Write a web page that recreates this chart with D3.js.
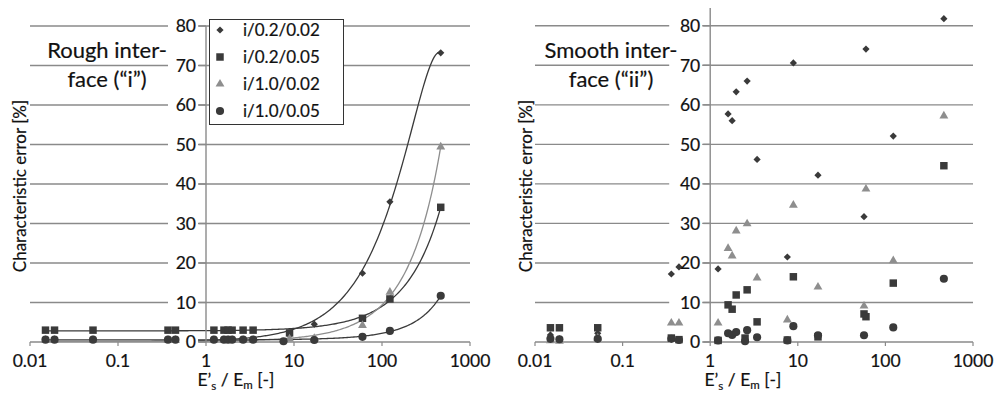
<!DOCTYPE html>
<html><head><meta charset="utf-8">
<script src="https://cdn.jsdelivr.net/npm/d3@7"></script>
<style>
body{margin:0;background:#fff}
svg{display:block}
text{font-family:Lato,"Open Sans",sans-serif;fill:#111;stroke:#111;stroke-width:0.2px}
</style>
</head><body>
<svg id="c" width="1001" height="396"></svg>
<script>
// ---------- data ----------
const xTickValues = [0.01, 0.1, 1, 10, 100, 1000];
const xTickLabels = ["0.01", "0.1", "1", "10", "100", "1000"];
const yTickValues = [0, 10, 20, 30, 40, 50, 60, 70, 80];
const seriesNames = ["i/0.2/0.02", "i/0.2/0.05", "i/1.0/0.02", "i/1.0/0.05"];

// Rough interface ("i")
const roughDiamondX = [0.015,0.019,0.052,0.37,0.45,1.23,1.6,1.78,1.98,2.64,3.43,8.9,17,60,123,465];
const roughDiamondY = [0.7,0.7,0.7,0.7,0.7,0.6,0.6,0.6,0.6,0.6,0.6,1.8,4.5,17.4,35.5,73.2];
const roughSquareX  = [0.015,0.019,0.052,0.37,0.45,1.23,1.6,1.78,1.98,2.64,3.43,8.9,60,123,465];
const roughSquareY  = [3.0,3.0,3.0,3.0,3.0,3.0,3.0,3.0,3.0,3.0,3.0,2.3,6.0,10.9,34.1];
const roughTriangleX = [0.015,0.019,0.052,0.37,0.45,1.23,1.6,1.78,1.98,2.64,3.43,8.9,17,60,123,465];
const roughTriangleY = [0.4,0.4,0.4,0.4,0.4,0.4,0.4,0.4,0.4,0.4,0.4,0.8,0.9,4.2,12.6,49.4];
const roughCircleX  = [0.015,0.019,0.052,0.37,0.45,1.23,1.6,1.78,1.98,2.64,3.43,7.6,17,60,123,465];
const roughCircleY  = [0.6,0.6,0.6,0.6,0.6,0.6,0.6,0.6,0.6,0.6,0.6,0.2,0.5,1.3,2.8,11.7];

// Smooth interface ("ii")
const smoothDiamondX = [0.015,0.019,0.052,0.36,0.44,1.23,1.6,1.78,1.98,2.64,3.43,7.6,8.9,17,57,60,123,465];
const smoothDiamondY = [1.8,0.8,2.2,17.2,19.0,18.5,57.7,56.0,63.3,66.0,46.2,21.5,70.6,42.2,31.7,74.1,52.1,81.8];
const smoothSquareX  = [0.015,0.019,0.052,0.36,0.44,1.23,1.6,1.78,1.98,2.5,2.64,3.43,7.6,8.9,17,57,60,123,465];
const smoothSquareY  = [3.6,3.6,3.6,1.0,0.6,0.4,9.4,8.3,11.9,1.0,13.2,5.1,0.5,16.5,1.3,7.1,6.4,14.9,44.6];
const smoothTriangleX = [0.015,0.019,0.052,0.36,0.44,1.23,1.6,1.78,1.98,2.64,3.43,7.6,8.9,17,57,60,123,465];
const smoothTriangleY = [0.3,0.2,1.0,4.8,4.8,4.8,23.7,21.8,28.1,29.9,16.2,5.6,34.6,13.9,9.1,38.7,20.6,57.2];
const smoothCircleX  = [0.015,0.019,0.052,0.36,0.44,1.23,1.6,1.78,1.98,2.5,2.64,3.43,7.6,8.9,17,57,123,465];
const smoothCircleY  = [0.8,0.7,0.8,0.8,0.5,0.4,2.2,1.8,2.5,0.2,3.0,1.2,0.4,4.0,1.7,1.7,3.7,16.0];

// ---------- helpers ----------
// least-squares polynomial (order 2) trendline in linear x, as in the spreadsheet
function polyFit(pts, order) {
  const n = order + 1;
  const A = Array.from({length: n}, () => new Array(n + 1).fill(0));
  pts.forEach(p => {
    for (let r = 0; r < n; r++) {
      for (let c = 0; c < n; c++) A[r][c] += Math.pow(p.x, r + c);
      A[r][n] += p.y * Math.pow(p.x, r);
    }
  });
  for (let i = 0; i < n; i++) {
    let m = i;
    for (let k = i + 1; k < n; k++) if (Math.abs(A[k][i]) > Math.abs(A[m][i])) m = k;
    [A[i], A[m]] = [A[m], A[i]];
    for (let k = i + 1; k < n; k++) {
      const f = A[k][i] / A[i][i];
      for (let c = i; c <= n; c++) A[k][c] -= f * A[i][c];
    }
  }
  const coef = new Array(n).fill(0);
  for (let i = n - 1; i >= 0; i--) {
    let s = A[i][n];
    for (let c = i + 1; c < n; c++) s -= A[i][c] * coef[c];
    coef[i] = s / A[i][i];
  }
  return x => coef.reduce((acc, c, i) => acc + c * Math.pow(x, i), 0);
}

// ---------- drawing ----------
const svg = d3.select("#c");
const dark = "#3a3a3a", light = "#8e8e8e", grid = "#8a8a8a";
const styles = [
  {type: d3.symbolSquare, size: 26, rot: 45, color: dark},   // diamond
  {type: d3.symbolSquare, size: 56, rot: 0, color: dark},    // square
  {type: d3.symbolTriangle, size: 34, rot: 0, color: light}, // triangle
  {type: d3.symbolCircle, size: 52, rot: 0, color: dark}     // circle
];
const zip = (xs, ys) => xs.map((x, i) => ({x, y: ys[i]}));

const panels = [
  {xr: [30, 470], ymax: 80, yr: [342, 26], axisTop: 80, lines: true,
   title: ["Rough inter-", "face (\u201Ci\u201D)"], titleX: 107,
   yTitleX: 26, xTitleX: 236, bgW: 30,
   series: [zip(roughDiamondX, roughDiamondY), zip(roughSquareX, roughSquareY),
            zip(roughTriangleX, roughTriangleY), zip(roughCircleX, roughCircleY)]},
  {xr: [535, 973], ymax: 84.5, yr: [342, 8], axisTop: 84.5, lines: false,
   title: ["Smooth inter-", "face (\u201Cii\u201D)"], titleX: 611,
   yTitleX: 532, xTitleX: 743, bgW: 33,
   series: [zip(smoothDiamondX, smoothDiamondY), zip(smoothSquareX, smoothSquareY),
            zip(smoothTriangleX, smoothTriangleY), zip(smoothCircleX, smoothCircleY)]}
];

panels.forEach((p, pi) => {
  const x = d3.scaleLog().domain([0.01, 1000]).range(p.xr);
  const y = d3.scaleLinear().domain([0, p.ymax]).range(p.yr);
  const g = svg.append("g");
  const ax = x(1);

  const clipId = "clip" + pi;
  svg.append("clipPath").attr("id", clipId).append("rect")
    .attr("x", p.xr[0]).attr("y", y(p.ymax)).attr("width", p.xr[1] - p.xr[0])
    .attr("height", y(0) - y(p.ymax));

  // gridlines
  g.selectAll(".grid").data(yTickValues).join("line")
    .attr("x1", p.xr[0]).attr("x2", p.xr[1])
    .attr("y1", d => y(d)).attr("y2", d => y(d))
    .attr("stroke", grid).attr("stroke-width", 1.4);

  // x ticks
  g.selectAll(".xt").data(xTickValues).join("line")
    .attr("x1", d => x(d)).attr("x2", d => x(d))
    .attr("y1", y(0)).attr("y2", y(0) + 4)
    .attr("stroke", grid).attr("stroke-width", 1.2);

  // trendlines
  if (p.lines) {
    const line = d3.line().x(d => x(d.x)).y(d => y(d.y));
    p.series.forEach((s, i) => {
      const f = polyFit(s, 2);
      const [lo, hi] = d3.extent(s, d => d.x);
      const samples = d3.range(0, 301).map(k => {
        const xv = Math.pow(10, Math.log10(lo) + (Math.log10(hi) - Math.log10(lo)) * k / 300);
        return {x: xv, y: f(xv)};
      });
      g.append("path").attr("d", line(samples)).attr("fill", "none")
        .attr("clip-path", `url(#${clipId})`)
        .attr("stroke", styles[i].color).attr("stroke-width", 1.3);
    });
  }

  // label backgrounds
  g.selectAll(".lb").data(yTickValues).join("rect")
    .attr("x", ax - 8 - p.bgW).attr("width", p.bgW)
    .attr("y", d => y(d) - 7).attr("height", 14)
    .attr("fill", "#fff");

  // y axis line and ticks
  g.append("line").attr("x1", ax).attr("x2", ax)
    .attr("y1", y(0)).attr("y2", y(p.axisTop))
    .attr("stroke", grid).attr("stroke-width", 1.4);
  g.selectAll(".yt").data(yTickValues).join("line")
    .attr("x1", ax - 7).attr("x2", ax)
    .attr("y1", d => y(d)).attr("y2", d => y(d))
    .attr("stroke", grid).attr("stroke-width", 1.4);

  // markers
  p.series.forEach((s, i) => {
    const st = styles[i];
    const sym = d3.symbol().type(st.type).size(st.size);
    g.append("g").selectAll("path").data(s).join("path")
      .attr("d", sym)
      .attr("transform", d => `translate(${x(d.x)},${y(d.y)}) rotate(${st.rot})`)
      .attr("fill", st.color);
  });

  // y tick labels
  g.selectAll(".yl").data(yTickValues).join("text")
    .attr("x", ax - 10).attr("y", d => y(d)).attr("dy", "0.36em")
    .attr("text-anchor", "end").attr("font-size", 17.5)
    .text(d => d);

  // x tick labels
  g.selectAll(".xl").data(xTickValues).join("text")
    .attr("x", d => x(d)).attr("y", 367)
    .attr("text-anchor", "middle").attr("font-size", 17.5)
    .text((d, i) => xTickLabels[i]);

  // panel title
  p.title.forEach((t, k) => {
    g.append("text").attr("x", p.titleX).attr("y", 58 + k * 29)
      .attr("text-anchor", "middle").attr("font-size", 22).text(t);
  });

  // y title
  g.append("text").attr("transform", `translate(${p.yTitleX},186) rotate(-90)`)
    .attr("text-anchor", "middle").attr("font-size", 17)
    .text("Characteristic error [%]");

  // x title
  const xt = g.append("text").attr("x", p.xTitleX).attr("y", 386)
    .attr("text-anchor", "middle").attr("font-size", 17.5);
  xt.append("tspan").text("E\u2019");
  xt.append("tspan").attr("font-size", 11.5).attr("dy", 4).text("s");
  xt.append("tspan").attr("dy", -4).text(" / E");
  xt.append("tspan").attr("font-size", 11.5).attr("dy", 3).text("m");
  xt.append("tspan").attr("dy", -3).text(" [-]");

  // legend (left panel only)
  if (pi === 0) {
    const lg = g.append("g");
    lg.append("rect").attr("x", 209.5).attr("y", 19.5).attr("width", 134).attr("height", 105)
      .attr("fill", "#fff").attr("stroke", "#333").attr("stroke-width", 1);
    seriesNames.forEach((n, i) => {
      const st = styles[i];
      const yy = 30 + i * 27;
      lg.append("path").attr("d", d3.symbol().type(st.type).size(st.size)())
        .attr("transform", `translate(220,${yy}) rotate(${st.rot})`).attr("fill", st.color);
      lg.append("text").attr("x", 243).attr("y", yy).attr("dy", "0.36em")
        .attr("font-size", 17).text(n);
    });
  }
});
</script>
</body></html>
